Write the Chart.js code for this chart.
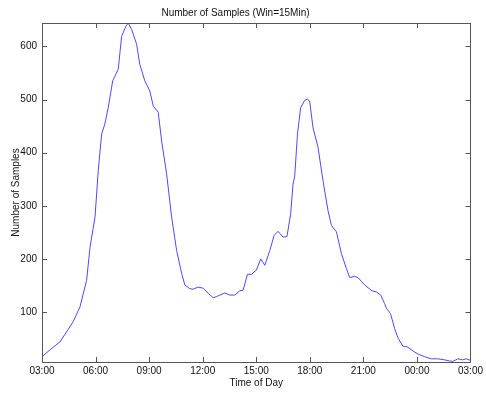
<!DOCTYPE html>
<html>
<head>
<meta charset="utf-8">
<script src="https://cdn.jsdelivr.net/npm/chart.js@4"></script>
<style>
  html, body { margin: 0; padding: 0; background: #fff; }
  #wrap { width: 486px; height: 393px; }
</style>
</head>
<body>
<div id="wrap"><canvas id="myChart"></canvas></div>
<script>
// hours since midnight (3 = 03:00, 27 = 03:00 next day)
var hours = [3.00, 3.45, 4.01, 4.75, 5.13, 5.50, 5.69, 5.97, 6.15, 6.34, 6.52, 6.71, 6.96, 7.27, 7.46, 7.70, 7.83,
    8.02, 8.30, 8.48, 8.76, 9.04, 9.23, 9.51, 9.70, 9.98, 10.26, 10.54, 10.82, 11.00, 11.28, 11.46, 11.74,
    12.02, 12.30, 12.58, 12.77, 13.24, 13.52, 13.80, 14.08, 14.26, 14.51, 14.73, 15.01, 15.25, 15.48, 15.76,
    16.00, 16.22, 16.50, 16.72, 16.93, 17.06, 17.15, 17.25, 17.31, 17.49, 17.71, 17.86, 17.99, 18.18, 18.46,
    18.74, 19.02, 19.21, 19.49, 19.77, 20.05, 20.23, 20.51, 20.70, 21.07, 21.48, 21.72, 21.97, 22.19, 22.29,
    22.52, 22.75, 22.93, 23.21, 23.49, 23.77, 24.05, 24.43, 24.80, 25.17, 25.55, 25.83, 26.01, 26.29, 26.57,
    26.76, 27.00];
var samples = [16, 29, 44, 82, 110, 160, 222, 279, 366, 435, 454, 485, 535, 557, 619, 638, 644,
    632, 604, 566, 535, 516, 488, 476, 422, 360, 279, 216, 173, 151, 144, 143, 147,
    145, 136, 127, 129, 136, 132, 132, 140, 141, 171, 171, 179, 200, 188, 216,
    244, 252, 241, 242, 285, 341, 354, 404, 435, 485, 498, 501, 497, 447, 410,
    347, 291, 263, 251, 210, 182, 165, 167, 165, 151, 140, 138, 132, 116, 107,
    97, 69, 52, 36, 34, 27, 21, 16, 12, 12, 10, 8, 7, 12, 10,
    12, 9];
var xTicks = [3, 6, 9, 12, 15, 18, 21, 24, 27];
var yTicks = [100, 200, 300, 400, 500, 600];

var points = [];
for (var i = 0; i < hours.length; i++) {
    points.push({ x: hours[i], y: samples[i] });
}

function hhmm(v) {
    var h = Math.round(v) % 24;
    return (h < 10 ? '0' : '') + h + ':00';
}

// MATLAB style box with inward ticks
var boxTicks = {
    id: 'boxTicks',
    afterDraw: function (chart) {
        var ctx = chart.ctx, a = chart.chartArea;
        var xs = chart.scales.x, ys = chart.scales.y;
        var len = 5;
        ctx.save();
        ctx.strokeStyle = '#555';
        ctx.lineWidth = 1;
        ctx.beginPath();
        ctx.rect(Math.round(a.left) + 0.5, Math.round(a.top) + 0.5,
            Math.round(a.right - a.left), Math.round(a.bottom - a.top));
        xTicks.forEach(function (t) {
            var px = Math.round(xs.getPixelForValue(t)) + 0.5;
            ctx.moveTo(px, a.bottom); ctx.lineTo(px, a.bottom - len);
            ctx.moveTo(px, a.top); ctx.lineTo(px, a.top + len);
        });
        yTicks.forEach(function (t) {
            var py = Math.round(ys.getPixelForValue(t)) + 0.5;
            ctx.moveTo(a.left, py); ctx.lineTo(a.left + len, py);
            ctx.moveTo(a.right, py); ctx.lineTo(a.right - len, py);
        });
        ctx.stroke();
        ctx.restore();
    }
};

Chart.defaults.font.family = '"Liberation Sans", Arial, sans-serif';
Chart.defaults.font.size = 10;
Chart.defaults.color = '#111';

var ctx1 = document.getElementById('myChart');
var myChart = new Chart(ctx1, {
    type: 'line',
    data: {
        datasets: [{
            label: 'Number of Samples',
            data: points,
            borderColor: '#4a4aff',
            borderWidth: 1,
            pointRadius: 0,
            tension: 0,
            fill: false
        }]
    },
    options: {
        responsive: true,
        maintainAspectRatio: false,
        animation: false,
        layout: { padding: { left: 0, right: 15, top: 0, bottom: 0 } },
        plugins: {
            legend: { display: false },
            tooltip: { enabled: false },
            title: {
                display: true,
                text: 'Number of Samples (Win=15Min)',
                font: { size: 10, weight: 'normal' },
                color: '#111',
                padding: { top: 7, bottom: 4 }
            }
        },
        scales: {
            x: {
                type: 'linear',
                min: 3,
                max: 27,
                afterBuildTicks: function (scale) {
                    scale.ticks = xTicks.map(function (v) { return { value: v }; });
                },
                afterFit: function (scale) { scale.height = 31; },
                ticks: {
                    callback: function (v) { return hhmm(v); },
                    maxRotation: 0,
                    autoSkip: false,
                    padding: 3
                },
                grid: { display: false, drawTicks: false },
                border: { display: false },
                title: { display: true, text: 'Time of Day', padding: { top: 0, bottom: 4 } }
            },
            y: {
                min: 6,
                max: 644,
                afterBuildTicks: function (scale) {
                    scale.ticks = yTicks.map(function (v) { return { value: v }; });
                },
                afterFit: function (scale) { scale.width = 42; },
                ticks: { padding: 5 },
                grid: { display: false, drawTicks: false },
                border: { display: false },
                title: { display: true, text: 'Number of Samples', padding: { top: 10, bottom: 0 } }
            }
        }
    },
    plugins: [boxTicks]
});
</script>
</body>
</html>
